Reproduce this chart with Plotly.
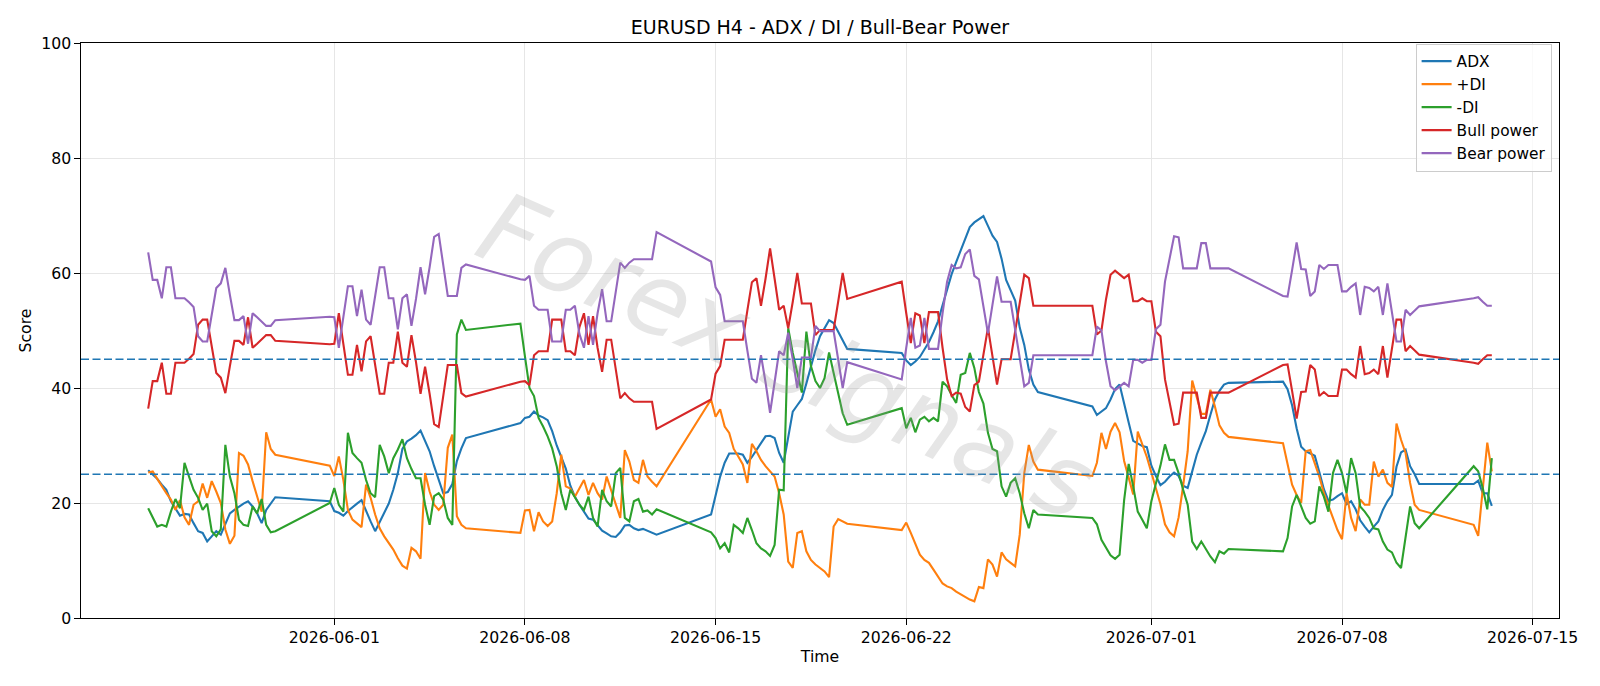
import pandas as pd
import plotly.graph_objects as go

# ---- time axis: H4 bars, weekly trading segments (start, number of bars)
seg_starts = ["2026-05-25 04:00", "2026-05-31 20:00", "2026-06-07 20:00", "2026-06-14 20:00",
              "2026-06-21 20:00", "2026-06-28 20:00", "2026-07-05 20:00", "2026-07-12 20:00"]
seg_bars = [29, 31, 31, 31, 31, 31, 31, 5]

adx = [
    25.7, 25.0, 24.2, 23.2, 22.3, 20.3, 19.1, 17.8, 18.1, 18.0, 16.5, 15.1, 14.8, 13.3, 14.2, 15.1, 14.5, 16.2, 18.2, 18.8, 19.4, 19.9, 20.3, 19.4, 18.2, 16.5, 18.8, 19.9, 21.0,
    20.3, 18.6, 18.3, 17.8, 18.6, 19.3, 19.9, 20.5, 18.5, 16.8, 15.1, 16.8, 18.2, 19.9, 22.3, 25.2, 29.4, 30.7, 31.2, 31.8, 32.6, 30.8, 29.0, 26.4, 24.0, 21.7, 21.9, 23.3, 27.3, 29.5, 31.3,
    33.9, 34.8, 35.0, 35.9, 35.2, 34.9, 34.4, 32.5, 30.0, 28.0, 26.0, 23.0, 21.1, 19.7, 18.5, 17.3, 17.1, 16.1, 15.2, 14.7, 14.2, 14.1, 14.9, 16.1, 16.2, 15.6, 15.3, 15.5, 15.2, 14.9, 14.5,
    18.0, 21.5, 24.6, 27.0, 28.6, 28.6, 28.6, 28.4, 27.0, 28.0, 29.3, 30.4, 31.6, 31.7, 31.3, 28.7, 27.0, 31.5, 35.9, 37.0, 38.1, 40.8, 43.8, 46.6, 49.0, 50.5, 51.8, 51.3, 49.8, 48.4, 46.8,
    46.1, 44.8, 44.0, 44.6, 45.4, 46.6, 48.0, 49.7, 51.6, 54.4, 57.3, 59.8, 61.9, 64.0, 66.2, 68.0, 68.8, 69.3, 69.9, 68.2, 66.5, 65.4, 62.5, 58.8, 57.0, 55.2, 50.5, 47.5, 43.2, 40.6, 39.3,
    36.8, 35.3, 35.9, 36.5, 38.0, 39.8, 40.6, 37.0, 34.0, 30.8, 30.3, 29.9, 29.7, 26.5, 24.7, 23.1, 23.7, 24.6, 25.3, 24.7, 23.0, 22.6, 25.5, 28.4, 30.5, 32.5, 35.3, 38.0, 39.5, 40.6, 40.9,
    41.1, 39.8, 37.0, 33.0, 29.8, 29.0, 28.6, 28.2, 25.4, 22.4, 20.4, 20.6, 21.2, 21.7, 19.8, 20.3, 18.9, 17.0, 15.9, 14.9, 15.9, 16.8, 18.8, 20.3, 21.4, 26.3, 28.8, 29.3, 26.4, 25.0, 23.3,
    23.3, 23.9, 21.7, 21.7, 19.5,
]

plus_di = [
    25.3, 25.5, 24.2, 22.9, 21.7, 20.6, 18.8, 20.5, 17.5, 16.2, 19.7, 20.3, 23.4, 20.9, 23.8, 22.0, 20.0, 15.4, 12.9, 14.3, 28.7, 28.2, 26.7, 23.8, 21.0, 18.5, 32.3, 29.4, 28.4,
    26.5, 24.7, 28.1, 24.0, 18.8, 17.1, 16.5, 15.8, 23.2, 20.9, 18.0, 15.6, 14.2, 13.0, 11.9, 10.4, 9.1, 8.6, 12.2, 11.6, 10.3, 25.2, 22.0, 19.7, 18.8, 19.7, 29.6, 31.9, 17.7, 16.2, 15.6,
    14.8, 18.7, 18.8, 15.1, 18.4, 16.8, 16.0, 16.8, 21.7, 28.4, 22.9, 22.5, 21.1, 22.6, 24.0, 21.4, 23.5, 21.7, 20.6, 24.6, 22.3, 20.0, 17.4, 29.2, 27.2, 24.0, 23.5, 27.5, 24.6, 23.7, 22.9,
    38.0, 35.0, 36.3, 33.3, 32.2, 29.4, 28.1, 26.7, 23.5, 30.3, 29.0, 27.5, 26.4, 25.5, 24.6, 21.7, 18.0, 9.8, 8.7, 14.8, 15.1, 11.6, 10.1, 9.3, 8.7, 8.1, 7.1, 15.9, 17.2, 16.8, 16.4,
    15.3, 16.6, 14.8, 13.0, 11.0, 10.1, 9.6, 8.4, 7.2, 6.0, 5.5, 5.2, 4.6, 4.1, 3.6, 3.2, 2.9, 5.4, 5.2, 10.2, 9.3, 7.2, 11.4, 10.2, 9.6, 9.0, 14.5, 25.2, 30.1, 27.2, 25.8,
    24.7, 27.0, 32.2, 29.4, 32.4, 33.9, 32.3, 27.3, 24.3, 21.5, 32.4, 30.3, 28.0, 25.3, 22.5, 19.8, 16.3, 14.9, 14.2, 17.5, 23.0, 29.0, 41.3, 38.2, 35.5, 35.5, 39.7, 36.8, 33.5, 32.2, 31.5,
    30.4, 26.9, 23.2, 21.4, 20.0, 29.0, 29.2, 26.9, 24.6, 21.7, 19.7, 17.4, 15.3, 13.7, 21.7, 17.4, 15.1, 20.6, 19.7, 19.7, 27.2, 24.6, 25.8, 23.5, 22.8, 33.8, 31.0, 28.7, 23.5, 19.7, 18.8,
    16.2, 14.3, 22.4, 30.5, 25.5,
]

minus_di = [
    19.1, 17.4, 15.9, 16.2, 15.9, 18.5, 20.7, 19.1, 27.0, 24.6, 22.3, 20.9, 18.8, 19.9, 15.1, 14.2, 15.4, 30.1, 24.6, 21.7, 17.1, 16.2, 16.0, 19.4, 18.2, 20.7, 16.2, 14.9, 15.1,
    20.0, 22.6, 19.7, 18.5, 32.2, 28.7, 27.8, 27.0, 24.0, 21.7, 21.0, 30.1, 28.1, 25.2, 27.8, 29.3, 31.1, 27.8, 25.9, 24.3, 24.3, 19.7, 16.2, 21.2, 21.7, 20.6, 17.4, 16.2, 49.3, 51.9, 50.1,
    51.2, 45.5, 40.0, 38.6, 34.8, 33.3, 31.6, 29.5, 26.4, 21.7, 18.8, 22.3, 21.1, 19.7, 18.8, 21.1, 17.4, 15.9, 22.3, 20.3, 19.4, 25.2, 26.1, 17.4, 16.8, 20.3, 20.7, 18.5, 18.7, 18.0, 18.9,
    14.9, 13.9, 12.1, 13.0, 11.4, 16.2, 15.6, 14.8, 17.4, 15.3, 13.0, 12.1, 11.6, 10.8, 12.7, 22.3, 22.2, 50.4, 46.1, 42.6, 39.2, 49.8, 43.8, 41.2, 40.0, 41.7, 46.2, 42.6, 39.0, 35.6, 33.6,
    36.5, 33.0, 34.8, 32.3, 34.5, 35.0, 34.2, 34.8, 34.2, 41.1, 40.3, 38.8, 37.4, 42.3, 42.6, 46.1, 43.5, 39.3, 37.3, 32.2, 29.4, 29.0, 22.9, 21.1, 23.5, 24.3, 21.7, 18.2, 15.6, 18.8, 18.0,
    17.4, 16.3, 13.6, 12.2, 10.9, 10.3, 11.0, 20.5, 26.8, 22.9, 18.5, 17.1, 15.6, 20.3, 23.2, 26.5, 30.2, 27.5, 27.5, 25.2, 22.3, 19.7, 13.3, 12.0, 13.3, 11.9, 10.7, 9.7, 11.6, 11.2, 12.0,
    11.6, 13.9, 19.4, 21.4, 19.4, 17.4, 16.4, 16.8, 22.9, 21.1, 18.5, 25.2, 27.5, 25.2, 21.7, 27.8, 25.2, 19.4, 18.5, 17.4, 15.6, 15.4, 13.3, 11.9, 11.4, 9.6, 8.7, 14.5, 19.4, 16.5, 15.6,
    26.4, 25.5, 22.6, 18.9, 27.8,
]

bull_power = [
    36.4, 41.2, 41.2, 44.4, 39.0, 39.0, 44.4, 44.4, 44.4, 45.1, 45.9, 51.0, 51.9, 51.9, 47.2, 42.6, 41.8, 39.1, 43.8, 48.2, 48.2, 47.5, 52.3, 47.0, 47.7, 48.4, 49.2, 49.2, 48.2,
    47.6, 47.7, 53.0, 47.5, 42.3, 42.3, 47.5, 42.9, 48.1, 49.0, 44.0, 39.0, 39.0, 44.4, 44.4, 49.8, 44.4, 43.7, 49.2, 44.5, 39.0, 43.7, 39.0, 33.7, 33.2, 39.0, 44.0, 44.0, 44.0, 39.1, 38.5,
    41.1, 41.2, 40.5, 45.7, 46.4, 46.4, 46.4, 51.9, 51.9, 51.9, 46.4, 46.4, 45.7, 50.6, 53.0, 47.5, 52.5, 47.0, 42.8, 48.4, 48.4, 43.5, 38.2, 39.1, 38.2, 37.6, 37.6, 37.6, 37.6, 37.6, 32.9,
    38.0, 42.5, 43.8, 48.4, 48.4, 48.4, 48.4, 48.4, 53.5, 58.4, 59.1, 54.3, 59.0, 64.3, 59.0, 53.6, 54.3, 50.4, 55.0, 60.0, 54.7, 54.7, 54.7, 49.2, 50.1, 50.1, 50.1, 50.1, 55.0, 60.0, 55.5,
    58.5, 53.0, 47.8, 53.0, 52.6, 47.8, 53.2, 53.2, 53.2, 47.0, 41.5, 38.6, 39.2, 39.0, 36.7, 35.9, 40.5, 41.1, 45.5, 50.5, 45.5, 40.6, 45.0, 45.0, 45.0, 49.9, 54.7, 59.7, 59.1, 54.3, 54.3,
    54.3, 49.3, 50.0, 55.4, 59.7, 60.4, 59.8, 59.1, 59.7, 55.1, 55.1, 55.6, 55.1, 55.1, 49.8, 49.0, 41.5, 37.4, 33.6, 33.8, 39.2, 39.2, 39.2, 39.2, 34.8, 34.8, 39.2, 39.2, 39.2, 39.2, 39.2,
    44.0, 44.1, 39.5, 34.7, 39.3, 39.4, 44.0, 43.2, 38.6, 39.3, 38.6, 38.6, 38.6, 43.2, 43.2, 42.4, 41.8, 47.3, 42.4, 42.6, 43.2, 42.4, 47.3, 41.8, 47.0, 51.9, 51.9, 46.4, 47.3, 46.5, 45.8,
    44.4, 44.2, 45.0, 45.7, 45.7,
]

bear_power = [
    63.6, 58.8, 58.8, 55.6, 61.0, 61.0, 55.6, 55.6, 55.6, 54.9, 54.1, 49.0, 48.1, 48.1, 52.8, 57.4, 58.2, 60.9, 56.2, 51.8, 51.8, 52.5, 47.7, 53.0, 52.3, 51.6, 50.8, 50.8, 51.8,
    52.4, 52.3, 47.0, 52.5, 57.7, 57.7, 52.5, 57.1, 51.9, 51.0, 56.0, 61.0, 61.0, 55.6, 55.6, 50.2, 55.6, 56.3, 50.8, 55.5, 61.0, 56.3, 61.0, 66.3, 66.8, 61.0, 56.0, 56.0, 56.0, 60.9, 61.5,
    58.9, 58.8, 59.5, 54.3, 53.6, 53.6, 53.6, 48.1, 48.1, 48.1, 53.6, 53.6, 54.3, 49.4, 47.0, 52.5, 47.5, 53.0, 57.2, 51.6, 51.6, 56.5, 61.8, 60.9, 61.8, 62.4, 62.4, 62.4, 62.4, 62.4, 67.1,
    62.0, 57.5, 56.2, 51.6, 51.6, 51.6, 51.6, 51.6, 46.5, 41.6, 40.9, 45.7, 41.0, 35.7, 41.0, 46.4, 45.7, 49.6, 45.0, 40.0, 45.3, 45.3, 45.3, 50.8, 49.9, 49.9, 49.9, 49.9, 45.0, 40.0, 44.5,
    41.5, 47.0, 52.2, 47.0, 47.4, 52.2, 46.8, 46.8, 46.8, 53.0, 58.5, 61.4, 60.8, 61.0, 63.3, 64.1, 59.5, 58.9, 54.5, 49.5, 54.5, 59.4, 55.0, 55.0, 55.0, 50.1, 45.3, 40.3, 40.9, 45.7, 45.7,
    45.7, 50.7, 50.0, 44.6, 40.3, 39.6, 40.2, 40.9, 40.3, 44.9, 44.9, 44.4, 44.9, 44.9, 50.2, 51.0, 58.5, 62.6, 66.4, 66.2, 60.8, 60.8, 60.8, 60.8, 65.2, 65.2, 60.8, 60.8, 60.8, 60.8, 60.8,
    56.0, 55.9, 60.5, 65.3, 60.7, 60.6, 56.0, 56.8, 61.4, 60.7, 61.4, 61.4, 61.4, 56.8, 56.8, 57.6, 58.2, 52.7, 57.6, 57.4, 56.8, 57.6, 52.7, 58.2, 53.0, 48.1, 48.1, 53.6, 52.7, 53.5, 54.2,
    55.6, 55.8, 55.0, 54.3, 54.3,
]

ref_levels = [45, 25]
x_tick_dates = ["2026-06-01", "2026-06-08", "2026-06-15", "2026-06-22", "2026-07-01", "2026-07-08", "2026-07-15"]
y_ticks = [0, 20, 40, 60, 80, 100]

# build timestamps
times = []
for s, n in zip(seg_starts, seg_bars):
    times.extend(pd.date_range(s, periods=n, freq="4h"))

series = [
    ("ADX", adx, "#1f77b4"),
    ("+DI", plus_di, "#ff7f0e"),
    ("-DI", minus_di, "#2ca02c"),
    ("Bull power", bull_power, "#d62728"),
    ("Bear power", bear_power, "#9467bd"),
]

FONT = "DejaVu Sans"
fig = go.Figure()
for name, vals, col in series:
    fig.add_trace(go.Scatter(x=times, y=vals, mode="lines", name=name,
                             line=dict(color=col, width=2.1)))

for lv in ref_levels:
    fig.add_shape(type="line", xref="paper", x0=0, x1=1, yref="y", y0=lv, y1=lv,
                  line=dict(color="#1f77b4", width=1.6, dash="8px,3.5px"), layer="above")

# watermark
fig.add_annotation(text="Forex signals", xref="paper", yref="paper", x=0.478, y=0.455,
                   showarrow=False, textangle=24,
                   font=dict(family=FONT, size=100, color="rgba(150,150,150,0.24)", style="italic"))

t0 = pd.Timestamp(seg_starts[0])
t1 = times[-1]
span = t1 - t0
xr = [t0 - 0.05 * span, t1 + 0.05 * span]

fig.update_layout(
    width=1600, height=686,
    margin=dict(l=81, r=41, t=43, b=68),
    paper_bgcolor="white", plot_bgcolor="white",
    font=dict(family=FONT, size=15.7, color="black"),
    title=dict(text="EURUSD H4 - ADX / DI / Bull-Bear Power", x=0.5, xref="paper", xanchor="center",
               y=1, yref="paper", yanchor="bottom", pad=dict(b=9),
               font=dict(family=FONT, size=19, color="black")),
    showlegend=True,
    legend=dict(x=0.995, xanchor="right", y=0.999, yanchor="top",
                bgcolor="rgba(255,255,255,0.8)", bordercolor="#cccccc", borderwidth=1,
                font=dict(family=FONT, size=15.4, color="black")),
    xaxis=dict(type="date", range=xr, tickvals=x_tick_dates, ticktext=x_tick_dates,
               showgrid=True, gridcolor="#e6e6e6", gridwidth=1,
               showline=True, linecolor="black", linewidth=1.2, mirror=True,
               ticks="outside", ticklen=5.5, tickwidth=1.2, tickcolor="black",
               zeroline=False,
               title=dict(text="Time", font=dict(family=FONT, size=15.7), standoff=4)),
    yaxis=dict(range=[0, 100], tickvals=y_ticks, ticktext=[str(v) for v in y_ticks],
               showgrid=True, gridcolor="#e6e6e6", gridwidth=1,
               showline=True, linecolor="black", linewidth=1.2, mirror=True,
               ticks="outside", ticklen=5.5, tickwidth=1.2, tickcolor="black",
               zeroline=False,
               title=dict(text="Score", font=dict(family=FONT, size=15.7), standoff=5)),
)

fig.write_html("out.html")
